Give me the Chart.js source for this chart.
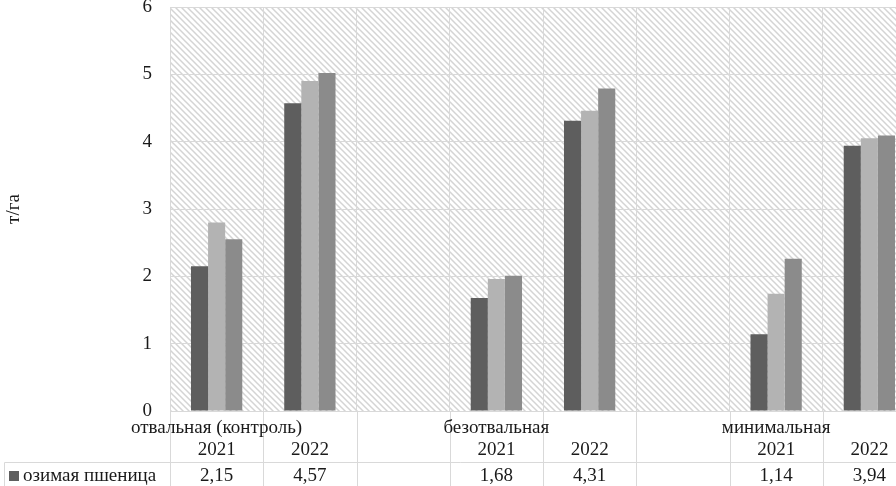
<!DOCTYPE html>
<html>
<head>
<meta charset="utf-8">
<script src="https://cdn.jsdelivr.net/npm/chart.js@4/dist/chart.umd.min.js"></script>
<style>
  html, body { margin: 0; padding: 0; background: #fff; overflow: hidden; width: 896px; height: 486px; }
  canvas { display: block; }
</style>
</head>
<body>
<canvas id="c" width="920" height="486"></canvas>
<script>
// ---- data ----
const groups = ['отвальная (контроль)', 'безотвальная', 'минимальная'];
const groupStart = [0, 3, 6];
const categories = ['2021', '2022', '', '2021', '2022', '', '2021', '2022'];
const seriesNames = ['озимая пшеница', 'Ряд 2', 'Ряд 3'];
const series1 = [2.15, 4.57, null, 1.68, 4.31, null, 1.14, 3.94];
const series2 = [2.80, 4.90, null, 1.96, 4.46, null, 1.74, 4.05];
const series3 = [2.55, 5.02, null, 2.01, 4.79, null, 2.26, 4.09];
const yTicks = [0, 1, 2, 3, 4, 5, 6];
const yTitle = 'т/га';

const FONT = '"Liberation Serif", "Times New Roman", serif';
const FSIZE = 19;
const TXT = '#1a1a1a';
const GRID = '#d9d9d9';
const colors = ['#5e5e5e', '#b3b3b3', '#8b8b8b'];

function fmt(v) { return v == null ? '' : v.toFixed(2).replace('.', ','); }

// hatch pattern
function makePattern(ctx) {
  const p = document.createElement('canvas');
  const s = 6;
  p.width = s; p.height = s;
  const g = p.getContext('2d');
  g.fillStyle = '#ffffff';
  g.fillRect(0, 0, s, s);
  g.strokeStyle = '#d4d4d4';
  g.lineWidth = 1.5;
  g.beginPath();
  g.moveTo(-1, -1); g.lineTo(s + 1, s + 1);
  g.moveTo(-1, s - 1); g.lineTo(1, s + 1);
  g.moveTo(s - 1, -1); g.lineTo(s + 1, 1);
  g.stroke();
  return ctx.createPattern(p, 'repeat');
}

const hatchPlugin = {
  id: 'hatch',
  beforeDraw(chart) {
    const { ctx, chartArea: a } = chart;
    ctx.save();
    ctx.fillStyle = makePattern(ctx);
    ctx.fillRect(a.left, a.top, a.right - a.left, a.bottom - a.top);
    ctx.restore();
  }
};

const tablePlugin = {
  id: 'table',
  afterDraw(chart) {
    const { ctx, chartArea: a } = chart;
    const xs = chart.scales.x;
    const n = categories.length;
    const slot = (a.right - a.left) / n;
    ctx.save();
    ctx.strokeStyle = GRID;
    ctx.lineWidth = 1;
    for (let i = 0; i <= n; i++) {
      const x = Math.round(a.left + i * slot) + 0.5;
      ctx.beginPath();
      ctx.moveTo(x, a.bottom);
      ctx.lineTo(x, chart.height);
      ctx.stroke();
    }
    const rowTop = 462.5;
    ctx.beginPath();
    ctx.moveTo(4.5, rowTop); ctx.lineTo(a.right, rowTop);
    ctx.moveTo(4.5, rowTop); ctx.lineTo(4.5, chart.height);
    ctx.stroke();

    ctx.fillStyle = TXT;
    ctx.font = FSIZE + 'px ' + FONT;
    ctx.textAlign = 'center';
    ctx.textBaseline = 'middle';
    groups.forEach((g, i) => {
      ctx.fillText(g, xs.getPixelForValue(groupStart[i]), 428);
    });
    categories.forEach((c, i) => {
      if (c) ctx.fillText(c, xs.getPixelForValue(i), 450);
    });
    series1.forEach((v, i) => {
      if (v != null) ctx.fillText(fmt(v), xs.getPixelForValue(i), 476);
    });
    ctx.fillStyle = colors[0];
    ctx.fillRect(9, 471, 10, 10);
    ctx.fillStyle = TXT;
    ctx.textAlign = 'left';
    ctx.fillText(seriesNames[0], 23, 476);
    ctx.save();
    ctx.translate(14, (a.top + a.bottom) / 2);
    ctx.rotate(-Math.PI / 2);
    ctx.textAlign = 'center';
    ctx.fillText(yTitle, 0, 0);
    ctx.restore();
    ctx.restore();
  }
};

const ctx = document.getElementById('c').getContext('2d');
new Chart(ctx, {
  type: 'bar',
  data: {
    labels: categories,
    datasets: [
      { label: seriesNames[0], data: series1, backgroundColor: colors[0] },
      { label: seriesNames[1], data: series2, backgroundColor: colors[1] },
      { label: seriesNames[2], data: series3, backgroundColor: colors[2] }
    ]
  },
  options: {
    responsive: false,
    animation: false,
    devicePixelRatio: 1,
    layout: { padding: { top: 7, right: 4, bottom: 0, left: 0 } },
    datasets: { bar: { categoryPercentage: 0.55, barPercentage: 1.0, borderWidth: 0 } },
    plugins: { legend: { display: false }, tooltip: { enabled: false } },
    scales: {
      x: {
        grid: { color: GRID, offset: true, drawTicks: false },
        border: { display: false },
        ticks: { display: false },
        afterFit(s) { s.height = 75; s.paddingLeft = 0; s.paddingRight = 0; }
      },
      y: {
        min: 0, max: 6,
        afterBuildTicks(s) { s.ticks = yTicks.map(v => ({ value: v })); },
        grid: { color: GRID, drawTicks: false },
        border: { display: false },
        ticks: { padding: 18, color: TXT, font: { family: FONT, size: FSIZE } },
        afterFit(s) { s.width = 170; s.paddingTop = 0; s.paddingBottom = 0; }
      }
    }
  },
  plugins: [hatchPlugin, tablePlugin]
});
</script>
</body>
</html>
